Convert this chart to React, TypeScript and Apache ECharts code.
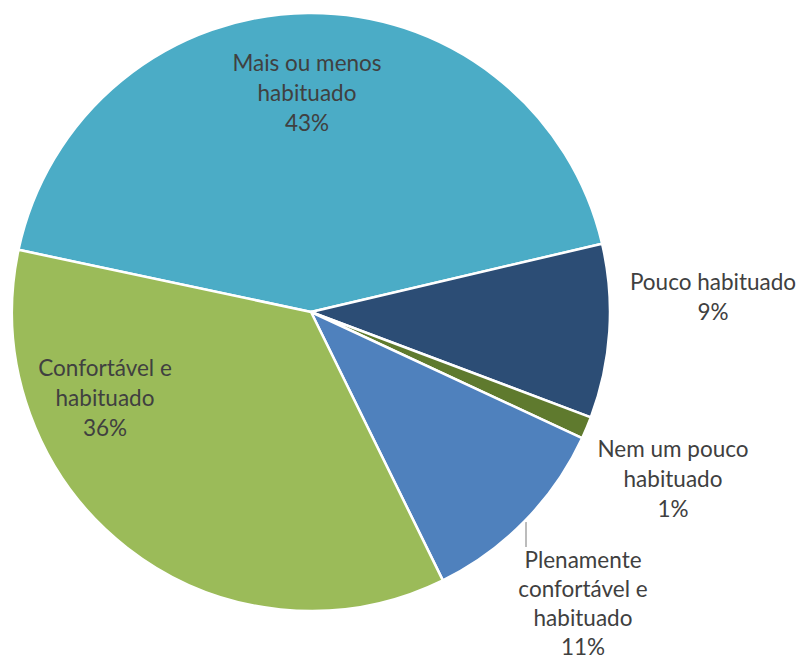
import React, { useEffect, useRef } from "react";
import * as echarts from "echarts";

const categories = [
  "Mais ou menos\nhabituado",
  "Pouco habituado",
  "Nem um pouco\nhabituado",
  "Plenamente\nconfortável e\nhabituado",
  "Confortável e\nhabituado",
];
const values = [43.0, 9.4, 1.2, 10.8, 35.6];
const colors = ["#4BACC6", "#2C4D75", "#5F7A2E", "#4F81BD", "#9BBB59"];
const labelPositions: [number, number][] = [
  [307, 92],
  [713, 296],
  [673, 478],
  [583, 603],
  [105, 397],
];

export default function App() {
  const ref = useRef<HTMLDivElement>(null);
  useEffect(() => {
    if (!ref.current) return;
    const chart = echarts.init(ref.current, undefined, { renderer: "svg" });
    chart.setOption({
      animation: false,
      backgroundColor: "#ffffff",
      series: [
        {
          type: "pie",
          center: [311, 312],
          radius: 299,
          startAngle: 168,
          clockwise: true,
          avoidLabelOverlap: false,
          itemStyle: { borderColor: "#ffffff", borderWidth: 2.5 },
          label: {
            show: true,
            color: "#404040",
            fontFamily: "Lato",
            fontSize: 22.5,
            lineHeight: 30,
            align: "center",
            formatter: (p: any) => `${p.name}\n${Math.round(p.percent)}%`,
          },
          labelLine: { show: false },
          labelLayout: (params: any) => {
            const [x, y] = labelPositions[params.dataIndex];
            const res: any = { x, y, align: "center", verticalAlign: "middle" };
            if (params.dataIndex === 3) {
              res.labelLinePoints = [
                [526, 522],
                [526, 522],
                [526, 547],
              ];
            }
            return res;
          },
          data: categories.map((name, i) => ({
            name,
            value: values[i],
            itemStyle: { color: colors[i] },
            label:
              i === 3
                ? { position: "outside", lineHeight: 29 }
                : { position: i === 0 || i === 4 ? "inside" : "outside" },
            labelLine:
              i === 3
                ? { show: true, length: 5, length2: 5, lineStyle: { color: "#A6A6A6", width: 1.5 } }
                : { show: false },
          })),
        },
      ],
    });
    return () => chart.dispose();
  }, []);
  return (
    <div
      ref={ref}
      style={{ position: "absolute", left: 0, top: 0, width: 801, height: 662 }}
    />
  );
}
